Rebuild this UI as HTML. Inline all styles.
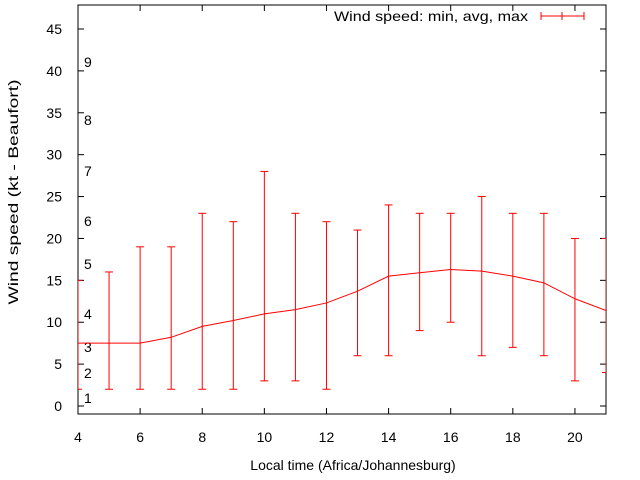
<!DOCTYPE html>
<html><head><meta charset="utf-8"><style>body{margin:0;background:#fff}svg{display:block}text{font-family:"Liberation Sans",sans-serif;font-size:14px}</style></head>
<body>
<svg id="c" width="640" height="480"></svg>
<script>
const hours=[4,5,6,7,8,9,10,11,12,13,14,15,16,17,18,19,20,21];
const avgs=[7.5,7.5,7.5,8.2,9.5,10.2,11,11.5,12.3,13.7,15.5,15.9,16.3,16.1,15.5,14.7,12.8,11.4];
const mins=[2,2,2,2,2,2,3,3,2,6,6,9,10,6,7,6,3,4];
const maxs=[15,16,19,19,23,22,28,23,22,21,24,23,23,25,23,23,20,20];
const yTicks=[0,5,10,15,20,25,30,35,40,45];
const xTicks=[4,6,8,10,12,14,16,18,20];
const beaufort=[["1",398],["2",373],["3",347],["4",314],["5",264],["6",221],["7",171],["8",120],["9",62]];
const L=78,R=606,T=5,B=414;
const X=h=>L+(h-4)*(R-L)/17;
const Y=v=>406-v*377/45;
const s=document.getElementById('c');const NS='http://www.w3.org/2000/svg';
function el(t,a,p){const e=document.createElementNS(NS,t);for(const k in a)e.setAttribute(k,a[k]);(p||s).appendChild(e);return e;}
const clip=el('clipPath',{id:'cl'});el('rect',{x:L,y:T,width:R-L,height:B-T},clip);
const frame=el('rect',{x:L,y:T,width:R-L,height:B-T,fill:'none',stroke:'#000','stroke-width':1});


yTicks.forEach(v=>{
 const y=Y(v);
 el('line',{x1:L,y1:y,x2:L+6,y2:y,stroke:'#000'});
 el('line',{x1:R,y1:y,x2:R-6,y2:y,stroke:'#000'});
 const t=el('text',{x:L-16,y:y+5,'text-anchor':'end'});t.textContent=v;
 
 
});
xTicks.forEach(h=>{
 const x=X(h);
 el('line',{x1:x,y1:B,x2:x,y2:B-6,stroke:'#000'});
 el('line',{x1:x,y1:T,x2:x,y2:T+6,stroke:'#000'});
 const t=el('text',{x:x,y:B+28,'text-anchor':'middle'});t.textContent=h;
 
 
});
beaufort.forEach(b=>{const t=el('text',{x:84,y:b[1]+5});t.textContent=b[0];
 
 });
const g=el('g',{'clip-path':'url(#cl)',stroke:'#f00','stroke-width':1,fill:'none'});


hours.forEach((h,i)=>{
 const x=X(h);
 const b=el('line',{x1:x,y1:Y(mins[i]),x2:x,y2:Y(maxs[i])},g);
 
 
 el('line',{x1:x-4,y1:Y(mins[i]),x2:x+4,y2:Y(mins[i])},g);
 el('line',{x1:x-4,y1:Y(maxs[i]),x2:x+4,y2:Y(maxs[i])},g);
});
const ln=el('polyline',{points:hours.map((h,i)=>X(h)+','+Y(avgs[i])).join(' ')},g);


const lt=el('text',{x:334,y:21,textLength:194,lengthAdjust:'spacingAndGlyphs'});lt.textContent='Wind speed: min, avg, max';


el('line',{x1:541,y1:16,x2:584,y2:16,stroke:'#f00'});
el('line',{x1:541,y1:12,x2:541,y2:20,stroke:'#f00'});
el('line',{x1:584,y1:12,x2:584,y2:20,stroke:'#f00'});
el('line',{x1:562,y1:12,x2:562,y2:20,stroke:'#f00'});
const xt=el('text',{x:353,y:470,'text-anchor':'middle'});xt.textContent='Local time (Africa/Johannesburg)';


const yt=el('text',{x:18,y:192,'text-anchor':'middle',textLength:225,lengthAdjust:'spacingAndGlyphs',transform:'rotate(-90 18 192)'});yt.textContent='Wind speed (kt - Beaufort)';


</script>
</body></html>
